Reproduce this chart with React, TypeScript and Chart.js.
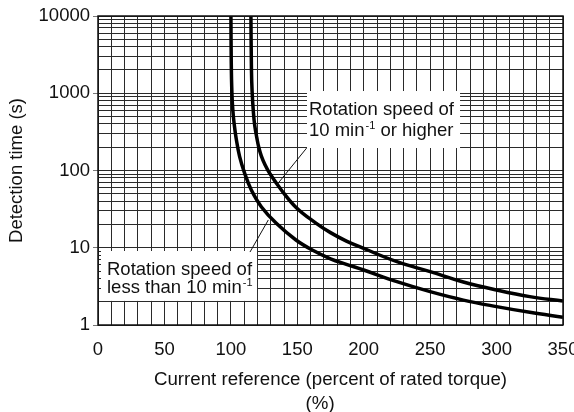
import React, { useEffect, useRef } from 'react';
import { Chart, registerables } from 'chart.js';

Chart.register(...registerables);

// Lower curve: rotation speed less than 10 min^-1
const LOWER_X = [100.05, 100.3, 100.8, 101.5, 102.5, 104, 106.6, 110.4, 115.4, 122.9, 134.2, 149, 162, 175, 187, 200, 225, 250, 275, 300, 325, 350];
const LOWER_Y = [10000, 2500, 1000, 600, 400, 260, 151, 92, 56, 34, 20.7, 12.6, 9.2, 7.2, 6.1, 5.15, 3.64, 2.7, 2.1, 1.73, 1.46, 1.26];

// Upper curve: rotation speed of 10 min^-1 or higher
const UPPER_X = [115.1, 115.5, 116, 117, 118, 119.6, 121, 122.9, 125.8, 129.2, 138, 149.3, 164.3, 175, 187, 200, 225, 250, 275, 300, 325, 350];
const UPPER_Y = [10000, 2000, 1050, 557, 380, 262, 200, 155, 118, 92, 56, 33, 20.7, 15.7, 12.2, 9.8, 6.6, 4.9, 3.6, 2.84, 2.33, 2.04];

const X_LABELS = [0, 50, 100, 150, 200, 250, 300, 350];
const Y_LABELS = [1, 10, 100, 1000, 10000];
const X_TITLE = ['Current reference (percent of rated torque)', '(%)    '];
const Y_TITLE = 'Detection time (s)';

const FONT = "'Liberation Sans', Arial, Helvetica, sans-serif";
const FS = 18.5;

type Ann = {
  box: [number, number, number, number]; // x1, x2, yTop, yBottom (data units)
  pad: number;
  base1: number;
  base2: number;
  line1: string;
  line2: [string, string, string];
  pointer: [[number, number], [number, number]];
};

const ANNOTATIONS: Ann[] = [
  {
    box: [157.3, 272.5, 1069, 195.5],
    pad: 2,
    base1: 24,
    base2: 44.5,
    line1: 'Rotation speed of',
    line2: ['10 min', '-1', ' or higher'],
    pointer: [[157, 195], [134.5, 64.9]],
  },
  {
    box: [2.26, 119.7, 9.08, 2.05],
    pad: 6,
    base1: 24,
    base2: 42.5,
    line1: 'Rotation speed of',
    line2: ['less than 10 min', '-1', ''],
    pointer: [[128.2, 22.9], [114.4, 8.8]],
  },
];

const Y_GRID: number[] = [];
for (let e = 0; e < 4; e++) {
  for (let m = 1; m < 10; m++) Y_GRID.push(m * Math.pow(10, e));
}
Y_GRID.push(10000);

const annotationPlugin = {
  id: 'callouts',
  afterDatasetsDraw(chart: any) {
    const { ctx, scales } = chart;
    const xs = scales.x;
    const ys = scales.y;
    ctx.save();
    for (const a of ANNOTATIONS) {
      const x1 = xs.getPixelForValue(a.box[0]);
      const x2 = xs.getPixelForValue(a.box[1]);
      const y1 = ys.getPixelForValue(a.box[2]);
      const y2 = ys.getPixelForValue(a.box[3]);
      ctx.fillStyle = '#ffffff';
      ctx.fillRect(x1, y1, x2 - x1, y2 - y1);
      ctx.fillStyle = '#111';
      ctx.textBaseline = 'alphabetic';
      ctx.textAlign = 'left';
      ctx.font = `${FS}px ${FONT}`;
      const tx = x1 + a.pad;
      ctx.fillText(a.line1, tx, y1 + a.base1);
      let cx = tx;
      ctx.fillText(a.line2[0], cx, y1 + a.base2);
      cx += ctx.measureText(a.line2[0]).width + 1;
      ctx.font = `11px ${FONT}`;
      ctx.fillText(a.line2[1], cx, y1 + a.base2 - 7);
      cx += ctx.measureText(a.line2[1]).width;
      ctx.font = `${FS}px ${FONT}`;
      if (a.line2[2]) ctx.fillText(a.line2[2], cx, y1 + a.base2);
      ctx.strokeStyle = '#111';
      ctx.lineWidth = 1;
      ctx.beginPath();
      ctx.moveTo(xs.getPixelForValue(a.pointer[0][0]), ys.getPixelForValue(a.pointer[0][1]));
      ctx.lineTo(xs.getPixelForValue(a.pointer[1][0]), ys.getPixelForValue(a.pointer[1][1]));
      ctx.stroke();
    }
    // frame
    const ca = chart.chartArea;
    ctx.strokeStyle = '#111';
    ctx.lineWidth = 1.5;
    ctx.strokeRect(ca.left, ca.top, ca.right - ca.left, ca.bottom - ca.top);
    ctx.restore();
  },
};

export default function App() {
  const ref = useRef<HTMLCanvasElement | null>(null);
  useEffect(() => {
    document.body.style.margin = '0';
    if (!ref.current) return;
    const lower = LOWER_X.map((x, i) => ({ x, y: LOWER_Y[i] }));
    const upper = UPPER_X.map((x, i) => ({ x, y: UPPER_Y[i] }));
    const chart = new Chart(ref.current, {
      type: 'line',
      data: {
        datasets: [
          {
            label: 'less than 10 min-1',
            data: lower,
            borderColor: '#000',
            borderWidth: 3.5,
            pointRadius: 0,
            tension: 0.4,
            fill: false,
          },
          {
            label: '10 min-1 or higher',
            data: upper,
            borderColor: '#000',
            borderWidth: 3.5,
            pointRadius: 0,
            tension: 0.4,
            fill: false,
          },
        ],
      },
      options: {
        responsive: false,
        animation: false,
        devicePixelRatio: 1,
        layout: { padding: { left: 0, right: 11, top: 16, bottom: 0 } },
        plugins: { legend: { display: false }, tooltip: { enabled: false } },
        scales: {
          x: {
            type: 'linear',
            min: 0,
            max: 350,
            afterBuildTicks: (s: any) => {
              const t = [];
              for (let v = 0; v <= 350; v += 10) t.push({ value: v });
              s.ticks = t;
            },
            afterFit: (s: any) => {
              s.height = 87;
              s.paddingLeft = 0;
              s.paddingRight = 0;
            },
            ticks: {
              autoSkip: false,
              maxRotation: 0,
              padding: 14,
              color: '#111',
              font: { family: FONT, size: FS },
              callback: (v: any) => (X_LABELS.includes(Number(v)) ? String(v) : ''),
            },
            grid: { color: '#2a2a2a', lineWidth: 1, drawTicks: false },
            border: { display: false },
            title: {
              display: true,
              text: X_TITLE,
              color: '#111',
              font: { family: FONT, size: 18.7, lineHeight: 1.243 },
              padding: { top: 0, bottom: -3 },
            },
          },
          y: {
            type: 'logarithmic',
            min: 1,
            max: 10000,
            afterBuildTicks: (s: any) => {
              s.ticks = Y_GRID.map((v) => ({ value: v, major: Y_LABELS.includes(v) }));
            },
            afterFit: (s: any) => {
              s.width = 98;
              s.paddingTop = 0;
              s.paddingBottom = 0;
            },
            ticks: {
              autoSkip: false,
              padding: 3,
              color: '#111',
              font: { family: FONT, size: FS },
              callback: (v: any) => (Y_LABELS.includes(Number(v)) ? String(v) : ''),
            },
            grid: {
              color: '#2a2a2a',
              lineWidth: 1,
              tickLength: 5,
              tickColor: (c: any) => (c.tick && Y_LABELS.includes(c.tick.value) ? '#777' : 'rgba(0,0,0,0)'),
            },
            border: { display: false },
            title: {
              display: true,
              text: Y_TITLE,
              color: '#111',
              font: { family: FONT, size: FS },
              padding: { top: 6, bottom: 0 },
            },
          },
        },
      },
      plugins: [annotationPlugin],
    } as any);
    return () => chart.destroy();
  }, []);
  return (
    <div style={{ width: 574, height: 412 }}>
      <canvas ref={ref} width={574} height={412} style={{ display: 'block' }} />
    </div>
  );
}
